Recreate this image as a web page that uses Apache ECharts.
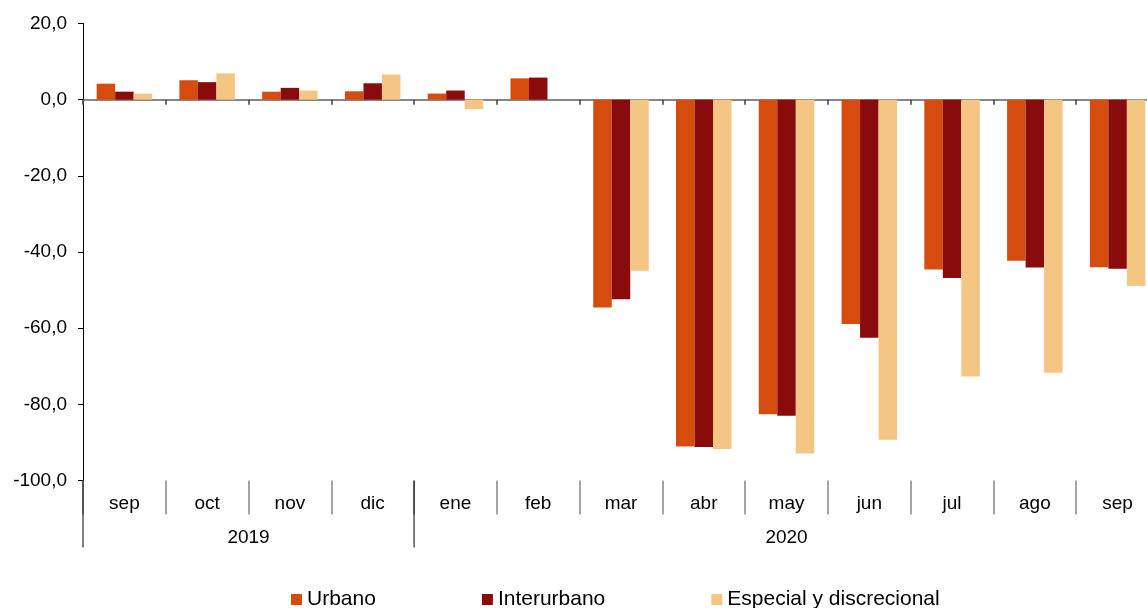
<!DOCTYPE html>
<html><head><meta charset="utf-8">
<script src="https://cdn.jsdelivr.net/npm/echarts@6/dist/echarts.min.js"></script>
<style>html,body{margin:0;padding:0;background:#fff}#c{width:1147px;height:608px}</style>
</head><body><div id="c"></div>
<script>
const categories = ['sep','oct','nov','dic','ene','feb','mar','abr','may','jun','jul','ago','sep'];
const urbano = [4.2, 5.1, 2.1, 2.2, 1.6, 5.6, -54.6, -91.1, -82.6, -58.9, -44.6, -42.3, -44.0];
const interurbano = [2.1, 4.6, 3.1, 4.3, 2.4, 5.8, -52.4, -91.2, -83.0, -62.5, -46.8, -44.1, -44.4];
const especial = [1.6, 6.9, 2.4, 6.6, -2.5, null, -44.9, -91.7, -92.9, -89.3, -72.7, -71.7, -48.9];
const seriesNames = ['Urbano', 'Interurbano', 'Especial y discrecional'];
const years = ['2019', '2020'];
const yearSpans = [4, 9];
const yMin = -100, yMax = 20, yStep = 20;

const FONT = '"Liberation Sans", Arial, sans-serif';
const colors = ['#D64B0E', '#8A0B0B', '#F5C583'];

const chart = echarts.init(document.getElementById('c'), null, {renderer: 'canvas'});
const mkSeries = (name, data, i) => ({
  name, type: 'bar', data, xAxisIndex: 0, yAxisIndex: 0,
  barWidth: 18.5, barGap: '0%',
  itemStyle: {color: colors[i]}
});
chart.setOption({
  animation: false,
  backgroundColor: '#fff',
  textStyle: {fontFamily: FONT},
  color: colors,
  grid: {left: 83, top: 23.5, width: 1076, height: 457, containLabel: false, outerBoundsMode: 'none'},
  legend: {
    left: 286, top: 584, icon: 'rect', itemWidth: 11, itemHeight: 11, itemGap: 106,
    textStyle: {fontSize: 21, color: '#000', fontFamily: FONT},
    data: seriesNames
  },
  xAxis: [
    {
      type: 'category', data: categories, position: 'bottom',
      axisLine: {onZero: true, lineStyle: {color: '#606060', width: 1.5}},
      axisTick: {show: true, length: 5, lineStyle: {color: '#404040', width: 1.5}},
      axisLabel: {show: false}
    },
    {
      type: 'category', data: categories, position: 'bottom',
      axisLine: {show: false, onZero: false},
      axisTick: {show: true, length: 34, interval: 0, lineStyle: {color: '#888', width: 1.5}},
      axisLabel: {show: true, interval: 0, fontSize: 19, color: '#000', fontFamily: FONT, margin: 14, lineHeight: 19}
    }
  ],
  yAxis: {
    type: 'value', min: yMin, max: yMax, interval: yStep,
    axisLine: {show: true, lineStyle: {color: '#000', width: 1}},
    axisTick: {show: true, length: 5, lineStyle: {color: '#000'}},
    splitLine: {show: false},
    axisLabel: {fontSize: 19, color: '#000', fontFamily: FONT, margin: 16, lineHeight: 19, padding: [6, 0, 0, 0],
      formatter: v => v.toFixed(1).replace('.', ',')}
  },
  series: [
    mkSeries(seriesNames[0], urbano, 0),
    mkSeries(seriesNames[1], interurbano, 1),
    mkSeries(seriesNames[2], especial, 2)
  ]
});

const c0 = chart.convertToPixel({xAxisIndex: 0}, 0);
const c1 = chart.convertToPixel({xAxisIndex: 0}, 1);
const bw = c1 - c0;
const yBottom = chart.convertToPixel({yAxisIndex: 0}, yMin);
const g = [];
let start = 0;
years.forEach((y, i) => {
  const xl = c0 - bw / 2 + start * bw;
  const xr = xl + yearSpans[i] * bw;
  g.push({type: 'line', z: 100, shape: {x1: xl, y1: yBottom, x2: xl, y2: yBottom + 67},
    style: {stroke: '#000', lineWidth: 1}});
  g.push({type: 'text', z: 100, x: (xl + xr) / 2, y: yBottom + 57,
    style: {text: y, fontSize: 19, fontFamily: FONT, fill: '#000', align: 'center', verticalAlign: 'middle'}});
  start += yearSpans[i];
});
chart.setOption({graphic: g});
</script>
</body></html>
